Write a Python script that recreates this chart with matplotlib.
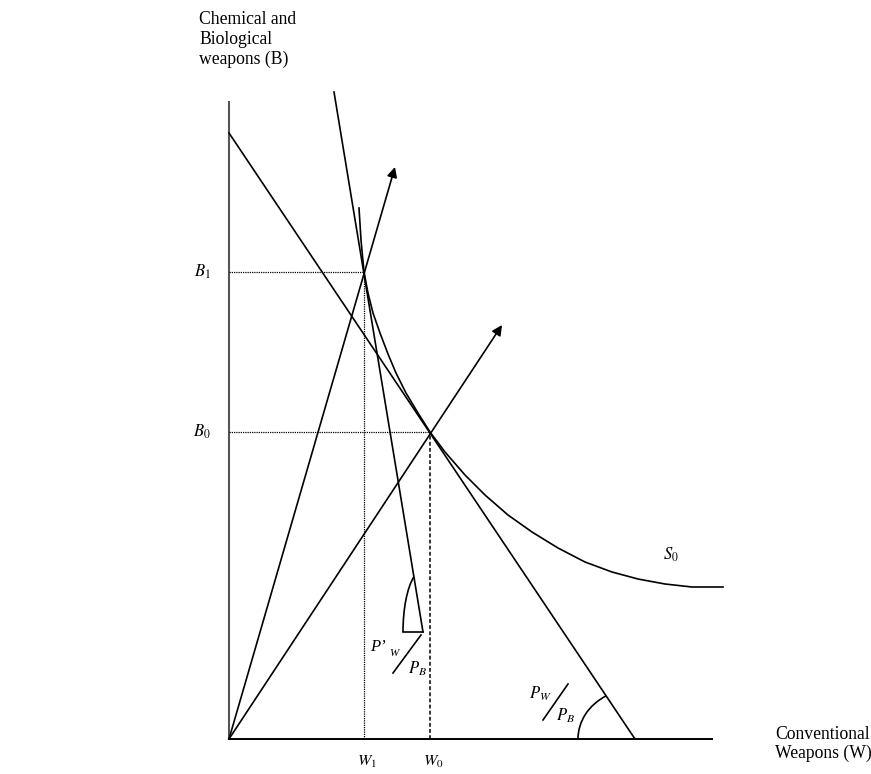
import matplotlib
matplotlib.use("Agg")
import matplotlib.pyplot as plt
from matplotlib.patches import Arc

plt.rcParams['font.family'] = ['Liberation Serif', 'DejaVu Serif']
plt.rcParams['mathtext.fontset'] = 'stix'

# ---- data (diagram units) ----
axis_y_top = 63.7
axis_x_end = 48.3
W_levels = [13.5, 20.1]          # W1, W0
B_levels = [46.7, 30.7]          # B1, B0
budget_B_intercept = 60.6
budget_W_intercept = 40.6
steep_W = [10.5, 19.4]           # P'W/PB line ends
steep_B = [64.7, 10.7]
ray_tip_W = [16.6, 27.3]
ray_tip_B = [57.2, 41.4]
s0_W = [13.0, 13.2, 13.5, 13.9, 14.4, 15.1, 15.9, 16.7, 17.7, 18.9, 20.1,
        21.6, 23.6, 25.6, 27.9, 30.3, 32.9, 35.6, 38.3, 40.9, 43.6, 46.3, 49.4]
s0_B = [53.1, 49.9, 46.7, 44.6, 42.6, 40.6, 38.5, 36.6, 34.6, 32.6, 30.7,
        28.7, 26.4, 24.4, 22.4, 20.7, 19.1, 17.7, 16.7, 16.0, 15.5, 15.2, 15.2]
level_labels_B = ['$B_{\\mathit{1}}$', '$B_{\\mathit{0}}$']
level_labels_W = ['$W_1$', '$W_0$']

fig = plt.figure(figsize=(8.71, 7.74), dpi=100)
ax = fig.add_axes([0, 0, 1, 1])
ax.set_xlim(-22.9, 64.2)
ax.set_ylim(-3.5, 73.9)
ax.axis('off')

lw = 1.2
# axes
ax.plot([0, 0], [0, axis_y_top], color='#555555', lw=1.5)
ax.plot([0, axis_x_end], [0, 0], color='black', lw=1.4)

# budget line
ax.plot([0, budget_W_intercept], [budget_B_intercept, 0], color='black', lw=lw)
# steep price line
ax.plot(steep_W, steep_B, color='black', lw=lw)
# S0 curve
ax.plot(s0_W, s0_B, color='black', lw=lw, solid_joinstyle='round')

# rays with arrows
for tw, tb in zip(ray_tip_W, ray_tip_B):
    ax.annotate('', xy=(tw, tb), xytext=(0, 0),
                arrowprops=dict(arrowstyle='-|>', lw=lw, color='black',
                                mutation_scale=15, shrinkA=0, shrinkB=0))

# guide lines
ax.plot([0, W_levels[0]], [B_levels[0], B_levels[0]], color='black', lw=0.9, ls=(0, (1, 0.8)))
ax.plot([0, W_levels[1]], [B_levels[1], B_levels[1]], color='black', lw=0.9, ls=(0, (1, 0.8)))
ax.plot([W_levels[0], W_levels[0]], [0, B_levels[0]], color='black', lw=0.9, ls=(0, (1, 0.8)))
ax.plot([W_levels[1], W_levels[1]], [0, B_levels[1]], color='black', lw=1.1, ls=(0, (2.5, 1.5)))

# angle markers
ax.plot([steep_W[1] - 2.0, steep_W[1]], [steep_B[1], steep_B[1]], color='black', lw=lw)
ax.add_patch(Arc((steep_W[1], steep_B[1]), 4.0, 12.4, theta1=99.4, theta2=180,
                 color='black', lw=lw))
ax.add_patch(Arc((budget_W_intercept, 0), 11.4, 10.0, theta1=123.8, theta2=180,
                 color='black', lw=lw))

# level labels
for lab, b in zip(level_labels_B, B_levels):
    ax.text(-1.8, b, lab, fontsize=12, ha='right', va='center')
for lab, w in zip(level_labels_W, W_levels):
    ax.text(w + 0.3, -2.3, lab, fontsize=11.5, ha='center', va='center')

ax.text(44.2, 18.4, '$S_0$', fontsize=12, ha='center', va='center')

# price ratio labels
ax.text(14.85, 9.2, "P\u2019", fontsize=12, style='italic', ha='center', va='center')
ax.text(16.5, 8.6, "W", fontsize=8, style='italic', ha='center', va='center')
ax.plot([16.4, 19.2], [6.6, 10.4], color='black', lw=lw)
ax.text(18.9, 7.0, '$P_B$', fontsize=12, ha='center', va='center')

ax.text(31.1, 4.5, '$P_W$', fontsize=12, ha='center', va='center')
ax.plot([31.4, 33.9], [1.9, 5.5], color='black', lw=lw)
ax.text(33.7, 2.3, '$P_B$', fontsize=12, ha='center', va='center')

# axis titles
ax.text(-3.0, 72.8, 'Chemical and\nBiological\nweapons (B)', fontsize=12.7,
        ha='left', va='top', linespacing=1.2)
ax.text(54.6, 1.3, 'Conventional\nWeapons (W)', fontsize=12.7,
        ha='left', va='top', linespacing=1.15)

fig.savefig('out.png', dpi=100)
